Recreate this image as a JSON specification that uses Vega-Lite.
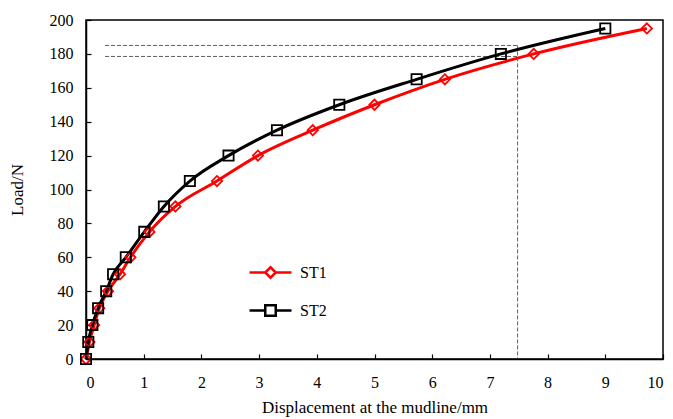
{
  "$schema": "https://vega.github.io/schema/vega-lite/v6.json",
  "width": 577,
  "height": 339,
  "autosize": {"type": "none"},
  "padding": {"left": 86, "top": 20, "right": 10, "bottom": 60},
  "background": "white",
  "config": {
    "view": {"stroke": "black", "strokeWidth": 1.5},
    "font": "Liberation Serif",
    "axis": {
      "labelFont": "Liberation Serif",
      "labelFontSize": 16,
      "labelColor": "black",
      "titleFont": "Liberation Serif",
      "titleFontSize": 17,
      "titleFontWeight": "normal",
      "titleColor": "black",
      "domainColor": "black",
      "domainWidth": 1.5,
      "tickColor": "black",
      "tickWidth": 1.2,
      "tickSize": -5,
      "grid": false
    }
  },
  "datasets": {
    "curves": [
      {"series": "ST1", "x": 0, "y": 0},
      {"series": "ST1", "x": 0.06, "y": 10},
      {"series": "ST1", "x": 0.14, "y": 20},
      {"series": "ST1", "x": 0.23, "y": 30},
      {"series": "ST1", "x": 0.38, "y": 40},
      {"series": "ST1", "x": 0.59, "y": 50},
      {"series": "ST1", "x": 0.77, "y": 60},
      {"series": "ST1", "x": 1.1, "y": 75},
      {"series": "ST1", "x": 1.55, "y": 90},
      {"series": "ST1", "x": 2.27, "y": 105},
      {"series": "ST1", "x": 2.98, "y": 120},
      {"series": "ST1", "x": 3.93, "y": 135},
      {"series": "ST1", "x": 5.0, "y": 150},
      {"series": "ST1", "x": 6.22, "y": 165},
      {"series": "ST1", "x": 7.76, "y": 180},
      {"series": "ST1", "x": 9.72, "y": 195},
      {"series": "ST2", "x": 0, "y": 0},
      {"series": "ST2", "x": 0.04, "y": 10},
      {"series": "ST2", "x": 0.11, "y": 20},
      {"series": "ST2", "x": 0.21, "y": 30},
      {"series": "ST2", "x": 0.35, "y": 40},
      {"series": "ST2", "x": 0.47, "y": 50},
      {"series": "ST2", "x": 0.69, "y": 60},
      {"series": "ST2", "x": 1.01, "y": 75},
      {"series": "ST2", "x": 1.35, "y": 90},
      {"series": "ST2", "x": 1.8, "y": 105},
      {"series": "ST2", "x": 2.47, "y": 120},
      {"series": "ST2", "x": 3.31, "y": 135},
      {"series": "ST2", "x": 4.39, "y": 150},
      {"series": "ST2", "x": 5.73, "y": 165},
      {"series": "ST2", "x": 7.19, "y": 180},
      {"series": "ST2", "x": 9.0, "y": 195}
    ],
    "guides": [
      {"x": 0.33, "x2": 7.48, "y": 185, "y2": 185},
      {"x": 0.33, "x2": 7.48, "y": 178.5, "y2": 178.5},
      {"x": 7.48, "x2": 7.48, "y": 185, "y2": 0}
    ]
  },
  "encoding": {
    "x": {
      "field": "x", "type": "quantitative",
      "scale": {"domain": [0, 10], "nice": false},
      "axis": {"values": [0,1,2,3,4,5,6,7,8,9,10], "format": "d", "title": "Displacement at the mudline/mm", "labelPadding": 20, "titleY": 40}
    },
    "y": {
      "field": "y", "type": "quantitative",
      "scale": {"domain": [0, 200], "nice": false},
      "axis": {"values": [0,20,40,60,80,100,120,140,160,180,200], "format": "d", "title": "Load/N", "labelPadding": 18, "titleX": -60}
    }
  },
  "layer": [
    {
      "data": {"name": "guides"},
      "mark": {"type": "rule", "color": "#333333", "strokeWidth": 0.8, "strokeDash": [4, 2]},
      "encoding": {
        "x2": {"field": "x2"},
        "y2": {"field": "y2"}
      }
    },
    {
      "data": {"name": "curves"},
      "mark": {"type": "line", "interpolate": "monotone", "strokeWidth": 3},
      "encoding": {
        "color": {"field": "series", "type": "nominal", "scale": {"domain": ["ST1", "ST2"], "range": ["#ff0000", "#000000"]},
          "legend": {
            "title": null,
            "orient": "none",
            "legendX": 172.5,
            "legendY": 240.5,
            "padding": 0,
            "rowPadding": 15,
            "symbolSize": 441,
            "symbolType": "M-2,0H-0.5M0.5,0H2M0,-0.5L0.5,0L0,0.5L-0.5,0Z",
            "symbolStrokeWidth": 2.5,
            "labelFont": "Liberation Serif",
            "labelFontSize": 16,
            "labelColor": "black",
            "labelOffset": 17.5,
            "encode": {
              "symbols": {
                "update": {
                  "shape": {"signal": "datum.value === 'ST1' ? 'M-2,0H-0.5M0.5,0H2M0,-0.5L0.5,0L0,0.5L-0.5,0Z' : 'M-2,0H-0.5M0.5,0H2M-0.5,-0.5H0.5V0.5H-0.5Z'"}
                }
              }
            }
          }
        }
      }
    },
    {
      "data": {"name": "curves"},
      "transform": [{"filter": "datum.series === 'ST1'"}],
      "mark": {"type": "point", "shape": "diamond", "filled": false, "strokeWidth": 1.8, "opacity": 1, "size": 105},
      "encoding": {
        "color": {"field": "series", "type": "nominal"}
      }
    },
    {
      "data": {"name": "curves"},
      "transform": [{"filter": "datum.series === 'ST2'"}],
      "mark": {"type": "point", "shape": "square", "filled": false, "strokeWidth": 1.8, "opacity": 1, "size": 105},
      "encoding": {
        "color": {"field": "series", "type": "nominal"}
      }
    }
  ]
}
